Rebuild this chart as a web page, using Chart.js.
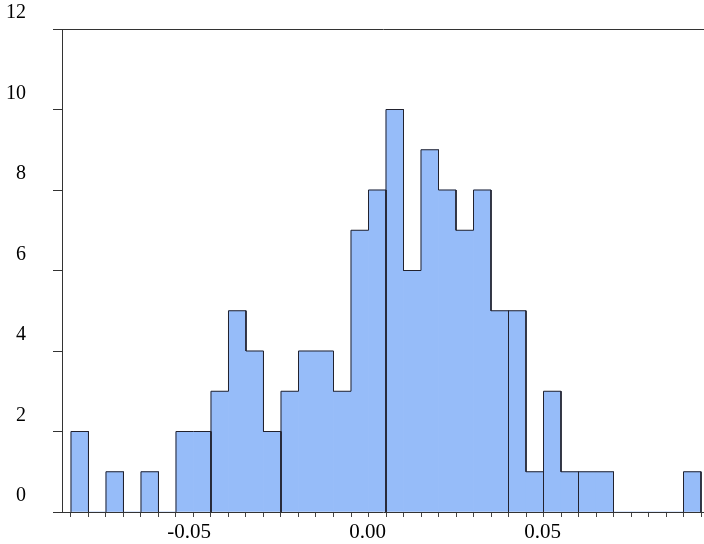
<!DOCTYPE html>
<html><head><meta charset="utf-8">
<script src="https://cdn.jsdelivr.net/npm/chart.js@4/dist/chart.umd.min.js"></script>
<style>html,body{margin:0;padding:0;background:#fff}#wrap{width:704px;height:544px;position:relative}</style>
</head><body><div id="wrap"><canvas id="c" width="704" height="544"></canvas></div>
<script>
// Histogram bin edges (x values)
const binEdges = [-0.090,-0.085,-0.080,-0.075,-0.070,-0.065,-0.060,-0.055,-0.050,-0.045,
  -0.040,-0.035,-0.030,-0.025,-0.020,-0.015,-0.010,-0.005,0.000,0.005,
  0.010,0.015,0.020,0.025,0.030,0.035,0.040,0.045,0.050,0.055,
  0.060,0.065,0.070,0.075,0.080,0.085,0.090];
// Counts per bin
const counts = [2,0,1,0,1,0,2,2,3,5,4,2,3,4,4,3,7,8,10,6,9,8,7,8,5,5,1,3,1,1,1,0,0,0,0,1];
// Edges where the outline is split into separate outlined blocks
const outlineBreaks = [-0.050,-0.030,0.000,0.035,0.045,0.055,0.065];
// Axis tick labels
const xTickValues = [-0.05, 0.00, 0.05];
const xTickLabels = ['-0.05','0.00','0.05'];
const yTicks = [0,2,4,6,8,10,12];
const xMin = -0.0925714, xMax = 0.0908571;

const barData = counts.map((c,i) => ({x:(binEdges[i]+binEdges[i+1])/2, y:c}));
const isBreak = v => outlineBreaks.some(b => Math.abs(b - v) < 1e-9);
const outline = [];
let i = 0;
while (i < counts.length) {
  if (counts[i] === 0) { i++; continue; }
  const start = i;
  let j = i;
  while (j + 1 < counts.length && counts[j+1] > 0 && !isBreak(binEdges[j+1])) j++;
  outline.push({x: binEdges[start], y: 0});
  for (let k = start; k <= j; k++) {
    outline.push({x: binEdges[k], y: counts[k]});
    outline.push({x: binEdges[k+1], y: counts[k]});
  }
  outline.push({x: binEdges[j+1], y: 0});
  outline.push({x: binEdges[j+1], y: null});
  i = j + 1;
}

const fontFamily = '"Liberation Serif", "DejaVu Serif", serif';
new Chart(document.getElementById('c'), {
  type: 'bar',
  data: {
    datasets: [
      {type:'line', data: outline, borderColor:'#22222e', borderWidth:1, pointRadius:0, fill:false, spanGaps:false, tension:0, order:0},
      {type:'bar', data: barData, backgroundColor:'rgb(150,188,249)', borderWidth:0, barPercentage:1, categoryPercentage:1, order:1}
    ]
  },
  options: {
    responsive: false, animation: false,
    layout: {padding: {top: 29, right: 0, left: 0, bottom: 0}},
    plugins: {legend: {display: false}, tooltip: {enabled: false}},
    scales: {
      x: {
        type: 'linear', min: xMin, max: xMax, offset: false,
        afterBuildTicks: s => { s.ticks = binEdges.map(v => ({value: v})); },
        afterFit: s => { s.height = 32; s.paddingLeft = 0; s.paddingRight = 0; },
        grid: {display: true, drawOnChartArea: false, drawTicks: true, tickLength: 5, tickColor: '#444', offset: false},
        border: {display: true, color: '#333', width: 1},
        ticks: {
          autoSkip: false, maxRotation: 0, minRotation: 0, align: 'end', padding: 3, color: '#000',
          font: {family: fontFamily, size: 21},
          callback: (v) => { const k = xTickValues.findIndex(t => Math.abs(t - v) < 1e-9); return k >= 0 ? xTickLabels[k] : ''; }
        }
      },
      y: {
        min: 0, max: 12,
        afterBuildTicks: s => { s.ticks = yTicks.map(v => ({value: v})); },
        afterFit: s => { s.width = 62; s.paddingTop = 0; s.paddingBottom = 0; },
        grid: {color: c => (c.tick && c.tick.value === 12) ? '#333' : 'rgba(0,0,0,0)', tickColor: '#333', tickLength: 9, drawTicks: true},
        border: {display: true, color: '#333', width: 1},
        ticks: {padding: 27, labelOffset: -16, color: '#000', font: {family: fontFamily, size: 20}}
      }
    }
  }
});
</script></body></html>
